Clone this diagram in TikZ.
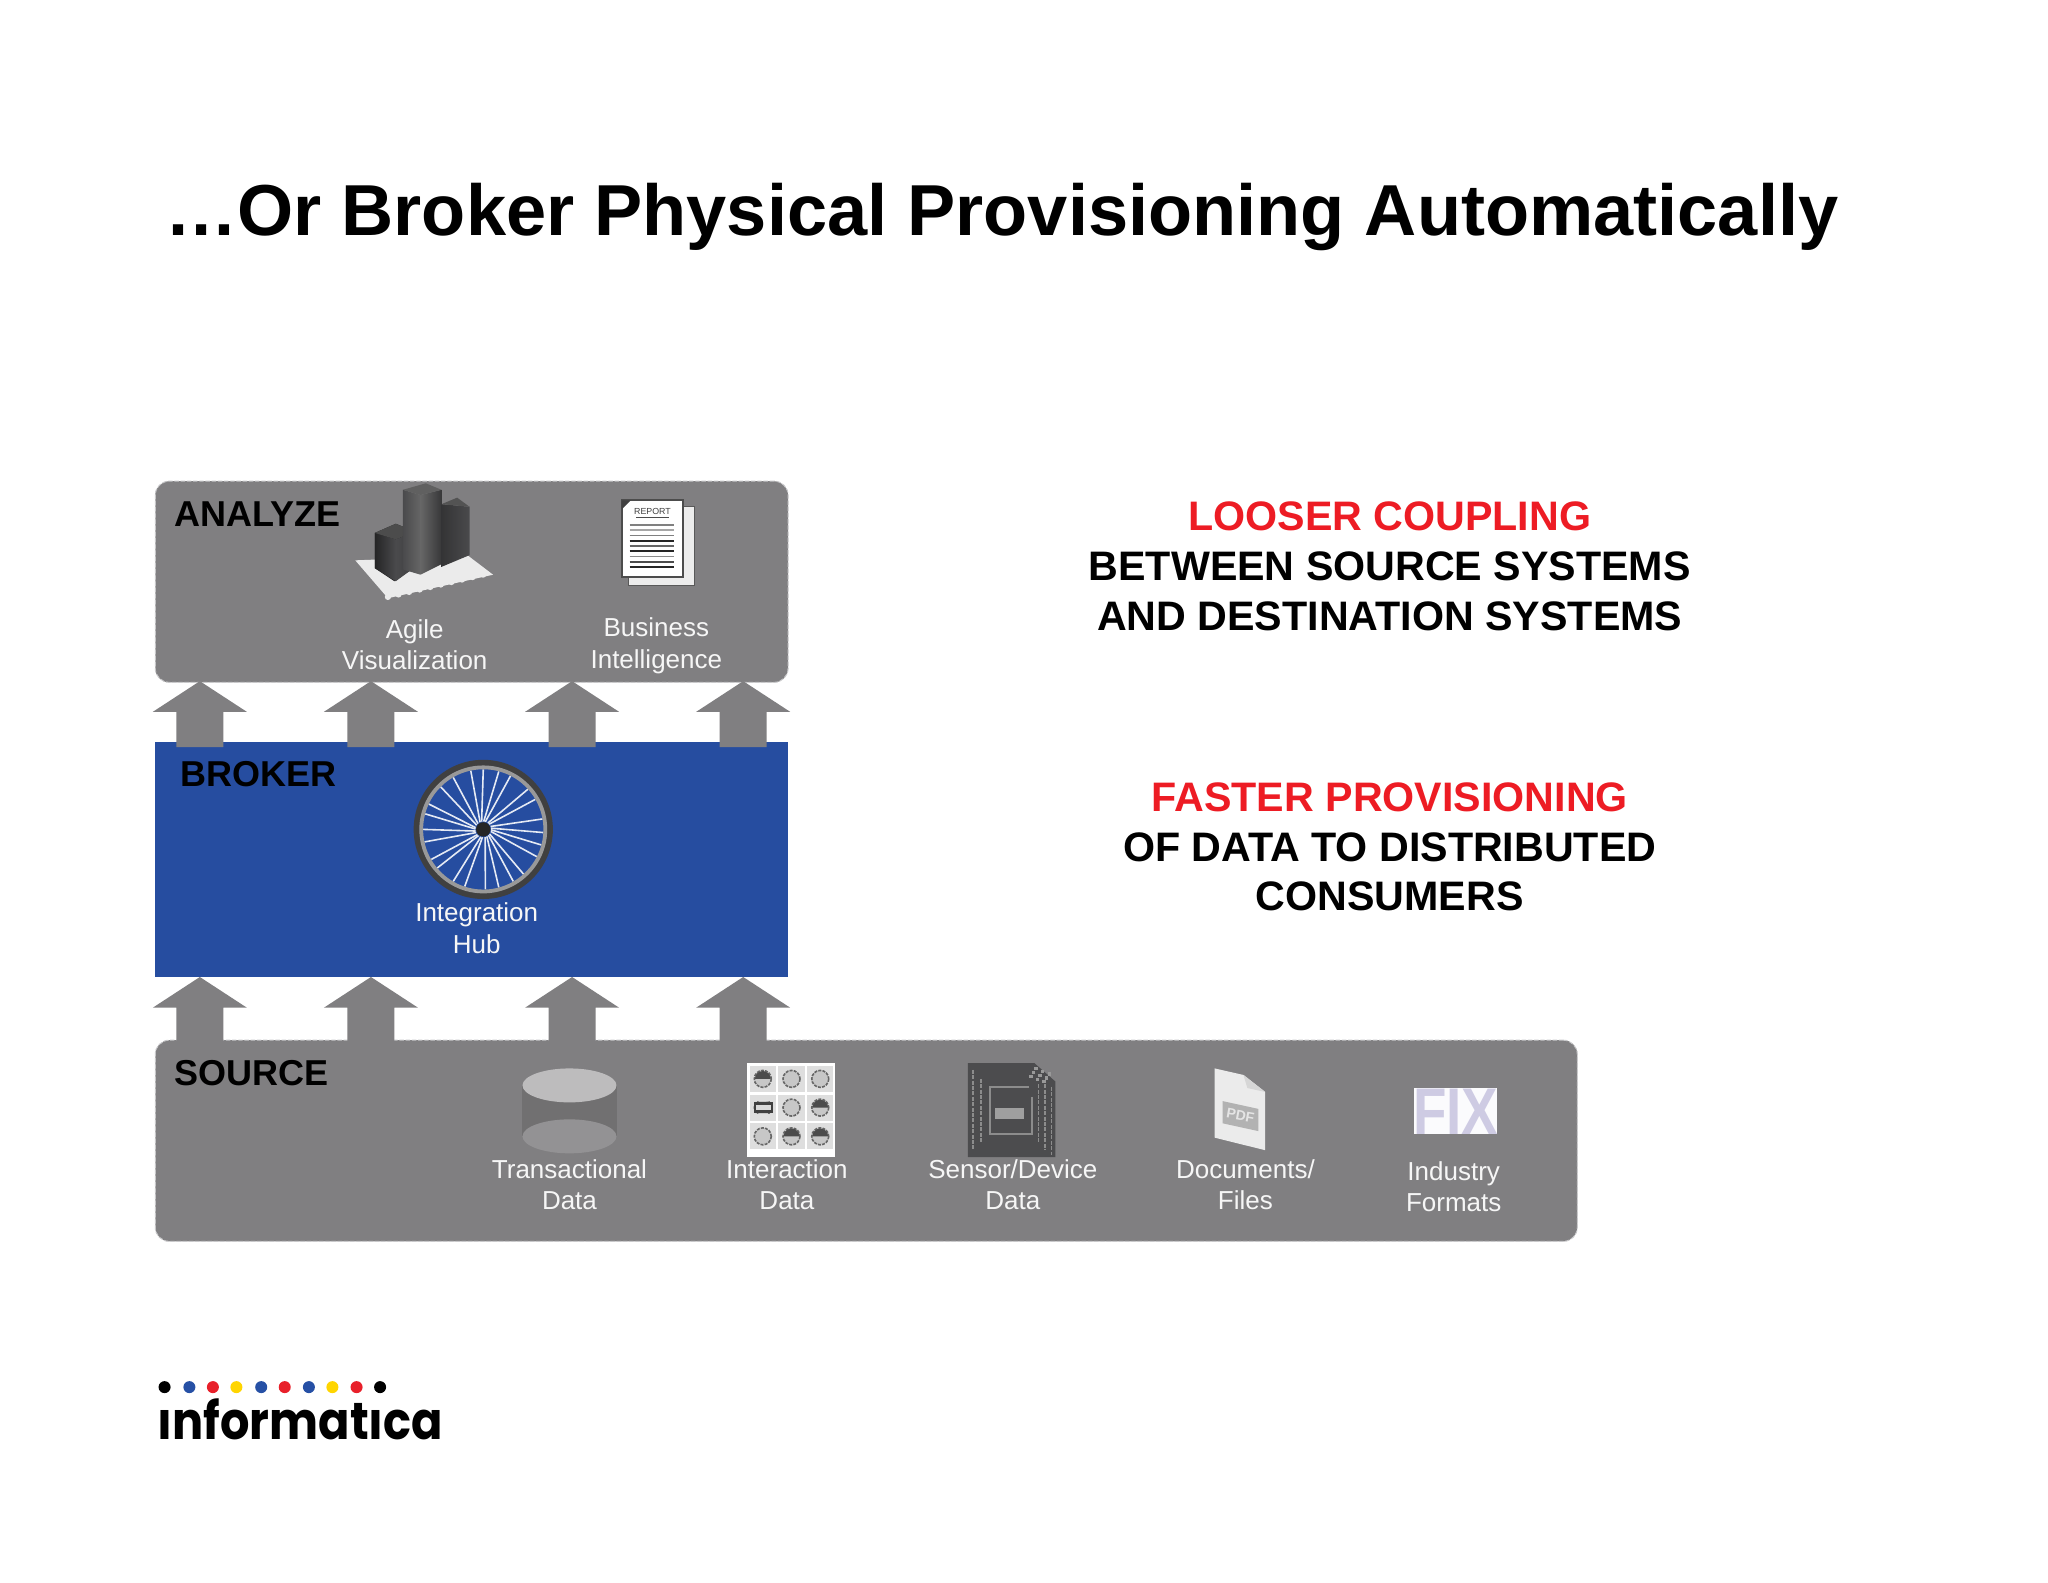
\documentclass[tikz,border=0pt]{standalone}
\usepackage{fontspec}
\setmainfont{Liberation Sans}
\newfontfamily\logofont{Poppins}[UprightFont=* Bold]
\definecolor{panelgray}{HTML}{807F81}
\definecolor{edgegray}{HTML}{C8C8CA}
\definecolor{brokerblue}{HTML}{264DA0}
\definecolor{headred}{HTML}{ED1C24}
\definecolor{logoblue}{HTML}{2650A5}
\definecolor{logored}{HTML}{E8202A}
\definecolor{logoyellow}{HTML}{FFD500}
\definecolor{darkbar}{HTML}{4A4A4C}
\definecolor{chipdark}{HTML}{4C4C4E}
\definecolor{fixlav}{HTML}{CECBE3}
\tikzset{
  x=0.653061pt,y=-0.653061pt,
  panel/.style={fill=panelgray,draw=edgegray,dash pattern=on 2.2pt off 0.9pt,line width=0.5pt,rounded corners=7pt},
  uparrow/.style={fill=panelgray,draw=none},
  tierlabel/.style={font=\bfseries\fontsize{18}{21}\selectfont,text=black,inner sep=0pt},
  iconlabel/.style={font=\fontsize{13}{15.7}\selectfont,text=white!93!gray,align=center,inner sep=0pt},
  sidetext/.style={font=\bfseries\fontsize{20.6}{24.8}\selectfont,text=black,align=center,inner sep=0pt},
  spoke/.style={draw=white!88!brokerblue,line width=0.8pt},
  cellicon/.style={draw=black!60,line width=0.8pt,dash pattern=on 1.5pt off 0.6pt,fill=black!22},
}
\newcommand{\blockarrow}[2]{%
  \fill[uparrow] (#1,#2) -- ++(36,23.5) -- ++(-18,0) -- ++(0,27) -- ++(-36,0) -- ++(0,-27) -- ++(-18,0) -- cycle;}
\begin{document}
\begin{tikzpicture}
\useasboundingbox (0,0) rectangle (1568,1211.3);
\fill[white] (0,0) rectangle (1568,1211.3);

% title
\node[inner sep=0pt,anchor=base,font=\bfseries\fontsize{36.1}{42}\selectfont] (title) at (767,180) {…Or Broker Physical Provisioning Automatically};

% tiers
\node[panel,minimum width=316.4pt,minimum height=100.6pt,anchor=north west,inner sep=0pt] (analyze) at (118.5,368) {};
\fill[brokerblue] (118.5,568) rectangle (603.5,748);
\node[panel,minimum width=711pt,minimum height=100.6pt,anchor=north west,inner sep=0pt] (source) at (118.5,796) {};

% block arrows
\foreach \ax in {153,284,438,569} {\blockarrow{\ax}{521.5}\blockarrow{\ax}{748}}

% tier labels
\node[tierlabel,anchor=base west] (lblanalyze) at (133,403) {ANALYZE};
\node[tierlabel,anchor=base west] (lblbroker) at (138,602) {BROKER};
\node[tierlabel,anchor=base west] (lblsource) at (133,831) {SOURCE};

% bar chart icon
\fill[white!84!gray] (272,429) -- (358.7,425.7) -- (377.5,440) -- (297,458) -- cycle;
\foreach \t in {0,1,...,9} {\fill[white!84!gray] (297+\t*8.1,457-\t*1.9) circle (2.4);}
\fill[black!55!darkbar] (287,408) -- (303,401) -- (318,407) -- (318,434) -- (302,445) -- (287,435) -- cycle;
\shade[left color=black!50!darkbar,right color=darkbar] (287,408) -- (303,413) -- (303,445) -- (287,435) -- cycle;
\shade[left color=darkbar,right color=black!15!darkbar] (303,413) -- (318,407) -- (318,434) -- (303,445) -- cycle;
\fill[gray!60!black] (287,408) -- (303,401) -- (318,407) -- (303,413) -- cycle;
\shade[left color=darkbar,right color=gray!80!black] (308.5,375) -- (322,379) -- (322,440) -- (308.5,436) -- cycle;
\shade[left color=gray!80!black,right color=black!25!darkbar] (322,379) -- (338,375) -- (338,432) -- (322,440) -- cycle;
\fill[gray!75!black] (308.5,375) -- (326,370) -- (338,375) -- (322,379) -- cycle;
\shade[left color=black!30!darkbar,right color=darkbar] (338,386) -- (359.5,388) -- (359.5,425) -- (338,434) -- cycle;
\fill[gray!65!black] (338,386) -- (350,381) -- (359.5,388) -- cycle;

% report icon
\fill[white!85!gray,draw=black!65,line width=0.6pt] (481,388) rectangle (532,448);
\fill[white,draw=black!70,line width=1pt] (476,383) rectangle (523,442);
\fill[black!75] (476,383) -- (483,383) -- (476,390) -- cycle;
\node[inner sep=0pt,font=\fontsize{4.4}{5}\selectfont,text=black!75] (reporttxt) at (499.5,391.5) {REPORT};
\draw[black!70,line width=0.6pt] (487,396) -- (512,396);
\foreach \ly/\lc in {402/50,406/35,410/50,414/85,418/60,422/85,426/45,430/70,434/85} {\draw[black!\lc,line width=0.9pt] (482,\ly) -- (516,\ly);}

% icon labels top
\node[iconlabel] (agile) at (317.5,493.5) {Agile\\Visualization};
\node[iconlabel] (bi) at (502.5,494.5) {Business\\Intelligence};

% wheel
\foreach \a in {102,90,75,63,42,30,10,-3,-15,-27,-48,-60,-75,-88,-108,-120,-140,-150,-168,-180,-195,-205,-225,-240} {
  \draw[spoke] ({370+6*cos(\a+12)},{635-6*sin(\a+12)}) -- ({370+46*cos(\a)},{635-46*sin(\a)});}
\draw[black!75,line width=3pt] (370,635) circle (51);
\draw[gray!80,line width=1.9pt] (370,635) circle (47.5);
\fill[black!85] (370,635) circle (5.5);
\node[iconlabel] (hub) at (365,710.5) {Integration\\Hub};

% cylinder
\fill[black!12!panelgray] (400,831) rectangle (472,870);
\fill[white!15!panelgray] (436,870) ellipse (36 and 13);
\fill[white!48!panelgray] (436,831) ellipse (36 and 13);
\node[iconlabel] (transactional) at (436,907) {Transactional\\Data};

% interaction data icon
\fill[white] (572,814) rectangle (639,886);
\foreach \cx in {584,606,628} \foreach \cy in {826,848,870} {
  \fill[black!13] (\cx-10,\cy-10) rectangle (\cx+10,\cy+10);
  \draw[cellicon] (\cx,\cy) circle (6.5);}
\fill[black!75] (577,844) rectangle (592,852);
\fill[white!70!gray] (579,846) rectangle (590,850);
\fill[black!13] (574,838) rectangle (594,843);
\fill[black!13] (574,853) rectangle (594,858);
\foreach \cx/\cy in {584/826,628/848,606/870,628/870} {\fill[black!70] (\cx-6,\cy) arc (180:360:6) -- cycle;}
\node[iconlabel] (interaction) at (602.5,907) {Interaction\\Data};

% sensor/device icon
\fill[chipdark] (741,814) -- (792,814) -- (808,828) -- (808,886) -- (741,886) -- cycle;
\foreach \sx/\sy/\ey in {745/819/880,751/826/874,800/830/880,805/832/884,795/830/874} {\draw[gray!90,dash pattern=on 2pt off 0.7pt,line width=0.8pt] (\sx,\sy) -- (\sx,\ey);}
\draw[gray!90,line width=1pt] (788,832) -- (758,832) -- (758,868) -- (790,868) -- (790,840);
\foreach \t in {0,1,2} \foreach \u in {0,1,2} {\fill[gray!80] (788+\t*5+\u*2,823-\u*3+\t*2) rectangle ++(2.5,2.5);}
\fill[gray!75] (762,848) rectangle (784,857);

\node[iconlabel] (sensor) at (775.5,907) {Sensor/Device\\Data};

% pdf icon
\fill[white!84!gray] (930,818) -- (952,823) -- (968.6,836) -- (968.6,880.6) -- (930,871) -- cycle;
\fill[white!68!gray] (952,823) -- (955,833) -- (968.6,836) -- cycle;
\fill[white!40!gray] (936,843) -- (963.5,849) -- (963.5,866) -- (936,860) -- cycle;
\node[inner sep=0pt,font=\bfseries\fontsize{7}{8}\selectfont,text=white!80!gray,rotate=-10] (pdftxt) at (949.7,854) {PDF};
\node[iconlabel] (documents) at (953.5,907) {Documents/\\Files};

% fix icon
\fill[white!92!fixlav] (1082.5,833) rectangle (1146.5,868);
\node[inner sep=0pt,font=\bfseries\fontsize{33}{33}\selectfont,text=fixlav,xscale=0.83] (fixtxt) at (1114.5,851) {FIX};
\node[iconlabel] (industry) at (1113,908.5) {Industry\\Formats};

% side texts
\node[sidetext] (coupling) at (1064,433.5) {\textcolor{headred}{LOOSER COUPLING}\\BETWEEN SOURCE SYSTEMS\\AND DESTINATION SYSTEMS};
\node[sidetext] (faster) at (1064,648.5) {\textcolor{headred}{FASTER PROVISIONING}\\OF DATA TO DISTRIBUTED\\CONSUMERS};

% logo
\foreach \dx/\dc in {126/black,145/logoblue,163/logored,181/logoyellow,200/logoblue,218/logored,236.5/logoblue,254.5/logoyellow,273/logored,291/black} {\fill[\dc] (\dx,1062) circle (4.6);}
\node[inner sep=0pt,anchor=base west,font=\logofont\fontsize{26}{30}\selectfont,xscale=0.89] (logo) at (120.5,1102) {ınformatıca};
\end{tikzpicture}
\end{document}
